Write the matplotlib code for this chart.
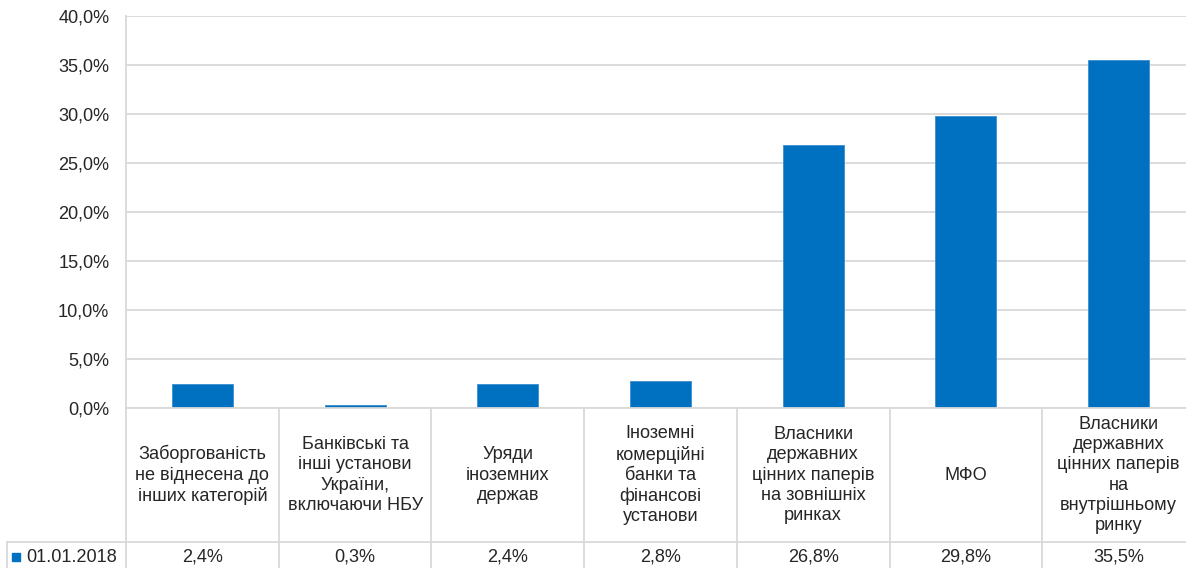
import numpy as np
import matplotlib.pyplot as plt
from matplotlib.ticker import FuncFormatter
from matplotlib.transforms import blended_transform_factory

plt.rcParams['font.family'] = ['Liberation Sans', 'DejaVu Sans']

# Дані
categories = [
    'Заборгованість\nне віднесена до\nінших категорій',
    'Банківські та\nінші установи\nУкраїни,\nвключаючи НБУ',
    'Уряди\nіноземних\nдержав',
    'Іноземні\nкомерційні\nбанки та\nфінансові\nустанови',
    'Власники\nдержавних\nцінних паперів\nна зовнішніх\nринках',
    'МФО',
    'Власники\nдержавних\nцінних паперів\nна\nвнутрішньому\nринку',
]
values = [2.4, 0.3, 2.4, 2.8, 26.8, 29.8, 35.5]
series_name = '01.01.2018'
value_labels = ['2,4%', '0,3%', '2,4%', '2,8%', '26,8%', '29,8%', '35,5%']

W, H = 1186, 568
blue = '#0070C0'
grid_c = '#D9D9D9'
txt_c = '#262626'
fs = 13.1

fig = plt.figure(figsize=(W / 100, H / 100), dpi=100)
ax_left, ax_right = 126, 1195
ax_top, ax_bot = 16, 408
ax = fig.add_axes([ax_left / W, (H - ax_bot) / H, (ax_right - ax_left) / W, (ax_bot - ax_top) / H])

x = np.arange(len(categories))
ax.bar(x, values, width=0.4, color=blue, edgecolor='#3a8fd0', linewidth=0.6, zorder=3)

ax.set_xlim(-0.5, len(categories) - 0.5)
ax.set_ylim(0, 40)
ax.set_yticks(np.arange(0, 41, 5))
ax.yaxis.set_major_formatter(FuncFormatter(lambda v, p: f'{v:.1f}%'.replace('.', ',')))
ax.tick_params(axis='y', length=0, pad=12, labelsize=fs, labelcolor=txt_c)
ax.tick_params(axis='x', length=0, labelbottom=False)
ax.grid(axis='y', color=grid_c, linewidth=1.3, zorder=0)
for s in ['top', 'right', 'bottom']:
    ax.spines[s].set_visible(False)
ax.spines['left'].set_color(grid_c)
ax.spines['left'].set_linewidth(1.3)

# Таблиця даних під графіком
px = ax_bot - ax_top
hdr_bot = -(542 - ax_bot) / px
val_bot = -(572 - ax_bot) / px
trans = blended_transform_factory(ax.transData, ax.transAxes)
for k in range(len(categories) + 1):
    ax.plot([k - 0.5, k - 0.5], [0, val_bot], transform=trans, color=grid_c,
            linewidth=1.3, clip_on=False)
ax.plot([-0.5, len(categories) - 0.5], [0, 0], transform=trans, color=grid_c,
        linewidth=1.3, clip_on=False, zorder=4)
# горизонтальна лінія над рядком значень (разом з клітинкою легенди)
fig.add_artist(plt.Line2D([7 / W, 1], [(H - 542) / H] * 2, color=grid_c, linewidth=1.3))
fig.add_artist(plt.Line2D([7 / W, 7 / W], [(H - 542) / H, 0], color=grid_c, linewidth=1.3))

hdr_mid = hdr_bot / 2
for i, (c, vl) in enumerate(zip(categories, value_labels)):
    ax.text(i, hdr_mid, c, transform=trans, ha='center', va='center', fontsize=fs,
            color=txt_c, linespacing=1.25)
    ax.text(i, -(557 - ax_bot) / px, vl, transform=trans, ha='center', va='center',
            fontsize=fs, color=txt_c)

# легенда в таблиці
fig.add_artist(plt.Rectangle((12 / W, (H - 561) / H), 8 / W, 8 / H, color=blue))
fig.text(26 / W, (H - 557) / H, series_name, ha='left', va='center', fontsize=fs,
         color=txt_c)

fig.savefig('out.png', dpi=100)
